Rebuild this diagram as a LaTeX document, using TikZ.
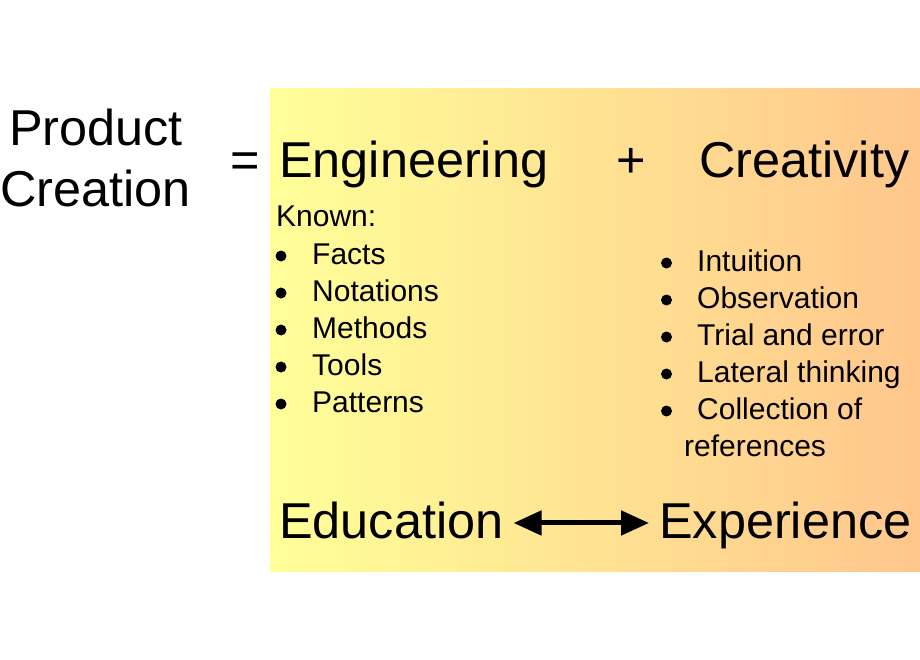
\documentclass[tikz,border=0pt]{standalone}
\usepackage{fontspec}
\setmainfont{Liberation Sans}
\usetikzlibrary{arrows.meta}
\definecolor{gleft}{RGB}{255,255,153}
\definecolor{gright}{RGB}{255,198,140}
\tikzset{
  big/.style={inner sep=0pt, anchor=base west, font=\fontsize{50.4}{60}\selectfont},
  item/.style={inner sep=0pt, anchor=base west, font=\fontsize{30}{37}\selectfont},
  dot/.style={circle, fill=black, inner sep=0pt, minimum size=11pt},
  dblarrow/.style={line width=5pt, {Triangle[length=28pt,width=24pt]}-{Triangle[length=28pt,width=24pt]}}
}
\begin{document}
\begin{tikzpicture}[x=1pt,y=-1pt]
\useasboundingbox (0,0) rectangle (920,660);
\fill[white] (0,0) rectangle (920,660);
\shade[left color=gleft, right color=gright] (270,89) rectangle (920,571);
% left title
\node[big] (prod) at (9,146) {Product};
\node[big] (crea) at (0,207) {Creation};
\node[big] (eq) at (230,178) {=};
\node[big] (eng) at (279,178) {Engineering};
\node[big] (plus) at (616,178) {+};
\node[big] (cre) at (699,178) {Creativity};
% left list
\node[item] (known) at (276,227) {Known:};
\node[dot] (b1) at (281,256) {};
\node[item] (l1) at (312,264) {Facts};
\node[dot] (b2) at (281,293) {};
\node[item] (l2) at (312,301) {Notations};
\node[dot] (b3) at (281,330) {};
\node[item] (l3) at (312,338) {Methods};
\node[dot] (b4) at (281,367) {};
\node[item] (l4) at (312,375) {Tools};
\node[dot] (b5) at (281,404) {};
\node[item] (l5) at (312,412) {Patterns};
% right list
\node[dot] (r1b) at (666.5,263) {};
\node[item] (r1) at (697,271) {Intuition};
\node[dot] (r2b) at (666.5,300) {};
\node[item] (r2) at (697,308) {Observation};
\node[dot] (r3b) at (666.5,337) {};
\node[item] (r3) at (697,345) {Trial and error};
\node[dot] (r4b) at (666.5,374) {};
\node[item] (r4) at (697,382) {Lateral thinking};
\node[dot] (r5b) at (666.5,411) {};
\node[item] (r5) at (697,419) {Collection of};
\node[item] (r6) at (684,456) {references};
% bottom
\node[big] (edu) at (279,538) {Education};
\node[big] (exp) at (659,538) {Experience};
\draw[dblarrow, shorten <=10pt, shorten >=10pt] ([yshift=-3pt]edu.east) -- ([yshift=-3pt]exp.west |- edu.east);
\end{tikzpicture}
\end{document}
